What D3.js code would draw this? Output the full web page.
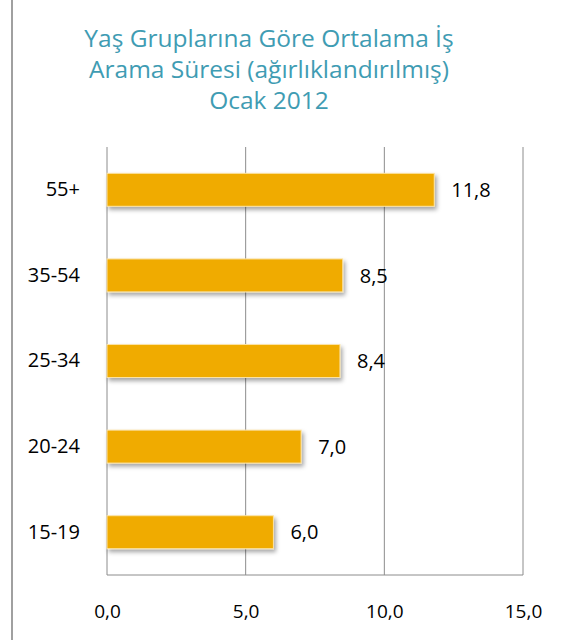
<!DOCTYPE html>
<html>
<head>
<meta charset="utf-8">
<script src="https://cdn.jsdelivr.net/npm/d3@7"></script>
<style>
  body { margin: 0; background: #fff; }
  svg { display: block; }
</style>
</head>
<body>
<svg id="chart" width="582" height="640"></svg>
<script>
// data
const titleLines = ["Yaş Gruplarına Göre Ortalama İş", "Arama Süresi (ağırlıklandırılmış)", "Ocak 2012"];
const categories = ["55+", "35-54", "25-34", "20-24", "15-19"];
const values = [11.8, 8.5, 8.4, 7.0, 6.0];
const xTicks = [0, 5, 10, 15];

const svg = d3.select("#chart");
const font = "'Open Sans', sans-serif";
const margin = {left: 107, right: 59, top: 147, bottom: 65};
const width = 582 - margin.left - margin.right;
const height = 640 - margin.top - margin.bottom;
const fmt = d => d3.format(".1f")(d).replace(".", ",");

// page border on the left
svg.append("line")
    .attr("x1", 12).attr("x2", 12)
    .attr("y1", 0).attr("y2", 640)
    .style("stroke", "#a0a0a0")
    .style("stroke-width", 2);

// title
svg.append("text")
    .attr("text-anchor", "middle")
    .style("font-family", font)
    .style("font-size", "24.5px")
    .style("font-weight", 500)
    .style("fill", "#3f9cb3")
    .selectAll("tspan")
    .data(titleLines)
    .enter()
    .append("tspan")
    .attr("x", 269)
    .attr("y", (d, i) => 47 + i * 31)
    .text(d => d);

// shadow for bars
const defs = svg.append("defs");
const filter = defs.append("filter")
    .attr("id", "shadow")
    .attr("x", "-10%").attr("y", "-20%")
    .attr("width", "130%").attr("height", "160%");
filter.append("feDropShadow")
    .attr("dx", 2).attr("dy", 3)
    .attr("stdDeviation", 2)
    .attr("flood-color", "#000")
    .attr("flood-opacity", 0.35);

const g = svg.append("g")
    .attr("transform", "translate(" + margin.left + "," + margin.top + ")");

const x = d3.scaleLinear().domain([0, 15]).range([0, width]);
const y = d3.scaleBand().domain(categories).range([0, height]).paddingInner(0.615).paddingOuter(0.3075);

// gridlines
g.selectAll(".grid")
    .data(xTicks)
    .enter()
    .append("line")
    .attr("x1", d => x(d)).attr("x2", d => x(d))
    .attr("y1", 0).attr("y2", height)
    .style("stroke", "#8c8c8c")
    .style("stroke-width", 1);

g.append("line")
    .attr("x1", 0).attr("x2", width)
    .attr("y1", height).attr("y2", height)
    .style("stroke", "#8c8c8c")
    .style("stroke-width", 1);

// bars
g.selectAll(".bar")
    .data(values)
    .enter()
    .append("rect")
    .attr("x", 0)
    .attr("y", (d, i) => y(categories[i]))
    .attr("width", d => x(d))
    .attr("height", y.bandwidth())
    .style("fill", "#f0ab00")
    .style("stroke", "#fbe3a6")
    .style("stroke-width", 1)
    .attr("filter", "url(#shadow)");

// value labels
g.selectAll(".val")
    .data(values)
    .enter()
    .append("text")
    .attr("x", d => x(d) + 17)
    .attr("y", (d, i) => y(categories[i]) + y.bandwidth() / 2)
    .attr("dy", "0.36em")
    .style("font-family", font)
    .style("font-size", "20px")
    .style("fill", "#000")
    .text(d => fmt(d));

// category labels
const yAxis = g.append("g")
    .call(d3.axisLeft(y).tickSize(0).tickPadding(27));
yAxis.select(".domain").remove();
yAxis.selectAll("text")
    .style("font-family", font)
    .style("font-size", "20px")
    .style("fill", "#000");

// x axis labels
const xAxis = g.append("g")
    .attr("transform", "translate(0," + height + ")")
    .call(d3.axisBottom(x).tickValues(xTicks).tickSize(0).tickPadding(30).tickFormat(fmt));
xAxis.select(".domain").remove();
xAxis.selectAll("text")
    .style("font-family", font)
    .style("font-size", "19px")
    .style("fill", "#000");
</script>
</body>
</html>
